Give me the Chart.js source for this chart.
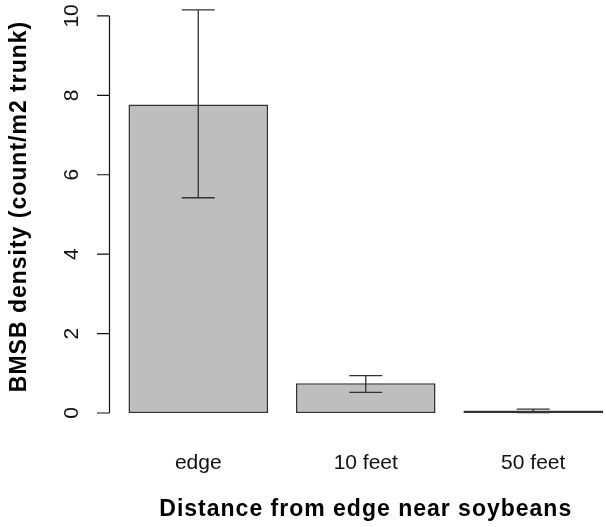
<!DOCTYPE html>
<html>
<head>
<meta charset="utf-8">
<script src="https://cdn.jsdelivr.net/npm/chart.js@4/dist/chart.umd.min.js"></script>
<style>
  html, body { margin: 0; padding: 0; overflow: hidden; background: #fff; }
  #wrap { width: 622px; height: 527px; position: relative; }
</style>
</head>
<body>
<div id="wrap"><canvas id="c"></canvas></div>
<script>
// ---- data ----
const categories = ['edge', '10 feet', '50 feet'];
const density = [7.77, 0.75, 0.06];
const errUpper = [10.15, 0.94, 0.10];
const errLower = [5.42, 0.52, 0.01];
const yTicks = [0, 2, 4, 6, 8, 10];
const yTitle = 'BMSB density (count/m2 trunk)';
const xTitle = 'Distance from edge near soybeans';

// R barplot layout: bar width 1, space 0.2
const barPos = i => 0.7 + 1.2 * i;

const FONT = "'Liberation Sans', Arial, sans-serif";

const spacingPlugin = {
  id: 'spacing',
  beforeDraw(chart) { chart.ctx.letterSpacing = '1px'; },
  beforeDatasetsDraw(chart) { chart.ctx.letterSpacing = '0px'; }
};

const rAxisPlugin = {
  id: 'rAxis',
  afterDatasetsDraw(chart) {
    const ctx = chart.ctx;
    const ys = chart.scales.y, xs = chart.scales.x;
    ctx.save();
    ctx.letterSpacing = '0px';
    // error bars
    ctx.strokeStyle = '#333';
    ctx.lineWidth = 1.3;
    density.forEach((v, i) => {
      const x = xs.getPixelForValue(barPos(i));
      const yt = ys.getPixelForValue(errUpper[i]);
      const yb = ys.getPixelForValue(errLower[i]);
      const cap = 16.5;
      ctx.beginPath();
      ctx.moveTo(x, yt); ctx.lineTo(x, yb);
      ctx.moveTo(x - cap, yt); ctx.lineTo(x + cap, yt);
      ctx.moveTo(x - cap, yb); ctx.lineTo(x + cap, yb);
      ctx.stroke();
    });
    // y axis, R style
    const ax = chart.chartArea.left;
    ctx.strokeStyle = '#111';
    ctx.lineWidth = 1.2;
    ctx.beginPath();
    ctx.moveTo(ax, ys.getPixelForValue(yTicks[0]));
    ctx.lineTo(ax, ys.getPixelForValue(yTicks[yTicks.length - 1]));
    yTicks.forEach(t => {
      const y = ys.getPixelForValue(t);
      ctx.moveTo(ax, y); ctx.lineTo(ax - 12.5, y);
    });
    ctx.stroke();
    ctx.fillStyle = '#111';
    ctx.font = '21px ' + FONT;
    ctx.textAlign = 'center';
    ctx.textBaseline = 'middle';
    yTicks.forEach(t => {
      const y = ys.getPixelForValue(t);
      ctx.save();
      ctx.translate(ax - 37, y);
      ctx.rotate(-Math.PI / 2);
      ctx.fillText(String(t), 0, 0);
      ctx.restore();
    });
    ctx.restore();
  }
};

new Chart(document.getElementById('c'), {
  type: 'bar',
  data: {
    datasets: [{
      data: categories.map((c, i) => ({ x: barPos(i), y: density[i] })),
      backgroundColor: '#bebebe',
      borderColor: '#333',
      borderWidth: 1.6,
      borderSkipped: false,
      barPercentage: 1,
      categoryPercentage: 1 / 1.2
    }]
  },
  options: {
    responsive: true,
    maintainAspectRatio: false,
    animation: false,
    devicePixelRatio: 1,
    layout: { padding: 0 },
    plugins: { legend: { display: false }, tooltip: { enabled: false } },
    scales: {
      x: {
        type: 'linear',
        offset: false,
        min: 0.064,
        max: 3.736,
        grid: { display: false, offset: false },
        border: { display: false },
        afterBuildTicks: s => { s.ticks = categories.map((c, i) => ({ value: barPos(i) })); },
        afterFit: s => { s.height = 114; },
        ticks: {
          z: 1,
          autoSkip: false,
          maxRotation: 0,
          padding: 30,
          color: '#111',
          font: { family: FONT, size: 21 },
          callback: (v, i) => categories[i]
        },
        title: {
          display: true,
          text: xTitle,
          color: '#000',
          font: { family: FONT, size: 23, weight: 'bold' },
          padding: { top: 4, bottom: 4 }
        }
      },
      y: {
        min: 0,
        max: 10.4,
        grid: { display: false },
        border: { display: false },
        ticks: { display: false, z: 1 },
        afterFit: s => { s.width = 109.5; },
        title: {
          display: true,
          text: yTitle,
          color: '#000',
          font: { family: FONT, size: 23, weight: 'bold' },
          padding: { top: 6.2, bottom: 6.2 }
        }
      }
    }
  },
  plugins: [spacingPlugin, rAxisPlugin]
});
</script>
</body>
</html>
